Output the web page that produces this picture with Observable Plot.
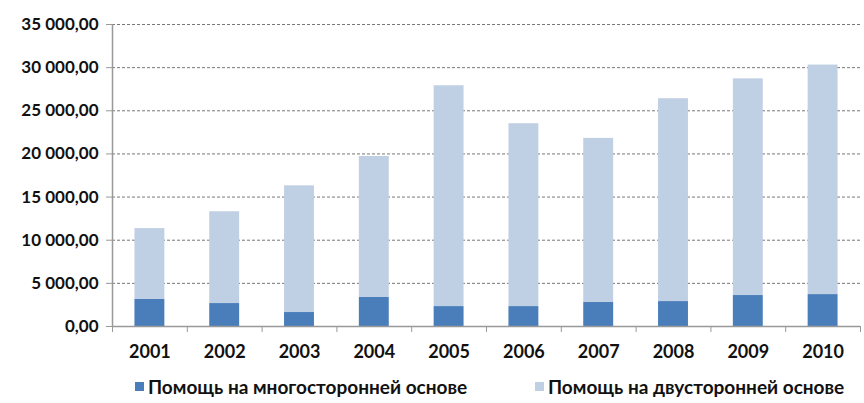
<!DOCTYPE html>
<html>
<head>
<meta charset="utf-8">
<script src="https://cdn.jsdelivr.net/npm/d3@7"></script>
<script src="https://cdn.jsdelivr.net/npm/@observablehq/plot@0.6"></script>
<style>
  body { margin: 0; background: #fff; font-family: Lato, "Open Sans", sans-serif; }
  #legend { position: relative; height: 33px; font-weight: bold; font-size: 19px; color: #111; }
  .item { position: absolute; top: 0; height: 33px; display: flex; align-items: center; white-space: nowrap; }
  .sw { display: inline-block; width: 9px; height: 9px; margin-right: 4px; }
</style>
</head>
<body>
<div id="chart"></div>
<div id="legend">
  <span class="item" style="left:135px"><span class="sw" style="background:#4a7ebb"></span><span id="l1"></span></span>
  <span class="item" style="left:535px"><span class="sw" style="background:#c0d0e4"></span><span id="l2"></span></span>
</div>
<script>
const years = [2001, 2002, 2003, 2004, 2005, 2006, 2007, 2008, 2009, 2010];
const multilateral = [3130, 2660, 1620, 3360, 2310, 2310, 2780, 2890, 3590, 3700];
const bilateral = [8220, 10640, 14680, 16340, 25590, 21190, 19020, 23510, 25110, 26600];
const seriesNames = ["Помощь на многосторонней основе", "Помощь на двусторонней основе"];
const yTicks = [0, 5000, 10000, 15000, 20000, 25000, 30000, 35000];
const xBoundaries = [2000.5, 2001.5, 2002.5, 2003.5, 2004.5, 2005.5, 2006.5, 2007.5, 2008.5, 2009.5, 2010.5];
const colors = ["#4a7ebb", "#c0d0e4"];

document.getElementById("l1").textContent = seriesNames[0];
document.getElementById("l2").textContent = seriesNames[1];

const data = [];
years.forEach((y, i) => {
  data.push({year: y, series: seriesNames[0], value: multilateral[i]});
  data.push({year: y, series: seriesNames[1], value: bilateral[i]});
});

const fmt = d3.formatLocale({decimal: ",", thousands: "\u00a0", grouping: [3]}).format(",.2f");

const plot = Plot.plot({
  width: 864,
  height: 370,
  marginLeft: 112,
  marginRight: 4,
  marginTop: 24,
  marginBottom: 44,
  style: {fontFamily: "Lato, 'Open Sans', sans-serif", fontSize: "16px", fontWeight: "bold", color: "#111"},
  x: {type: "linear", domain: [2000.5, 2010.5]},
  y: {domain: [0, 35000]},
  color: {domain: seriesNames, range: colors},
  marks: [
    Plot.gridY(yTicks, {stroke: "#777", strokeOpacity: 1, strokeDasharray: "3,2", strokeWidth: 1}),
    Plot.rectY(data, Plot.stackY({x1: d => d.year - 0.2, x2: d => d.year + 0.2, y: "value", fill: "series", order: seriesNames})),
    Plot.axisY({ticks: yTicks, tickFormat: fmt, tickSize: 6, tickPadding: 8, stroke: "#999", fontSize: 17, label: null}),
    Plot.ruleX([2000.5], {stroke: "#999", strokeWidth: 1.5}),
    Plot.ruleY([0], {stroke: "#999", strokeWidth: 1.5}),
    Plot.axisX({ticks: xBoundaries, tickFormat: () => "", tickSize: 6, stroke: "#999", label: null}),
    Plot.axisX({ticks: years, tickFormat: d => String(d), tickSize: 0, tickPadding: 19, fontSize: 18, label: null})
  ]
});
document.getElementById("chart").appendChild(plot);
</script>
</body>
</html>
